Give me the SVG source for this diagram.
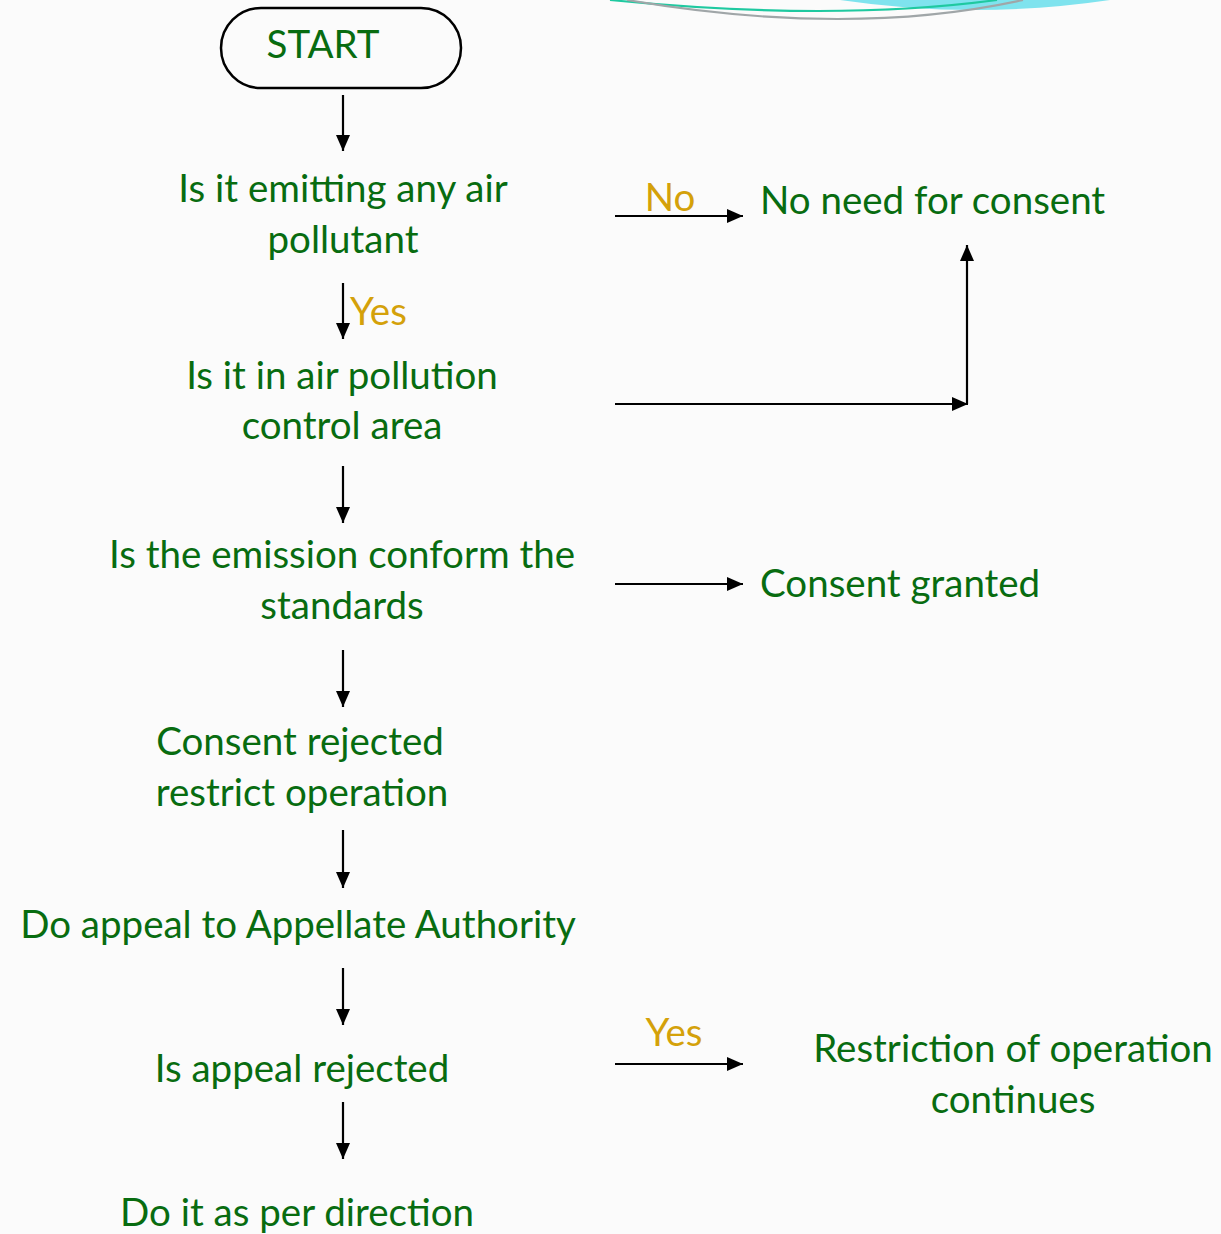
<svg xmlns="http://www.w3.org/2000/svg" width="1221" height="1234" viewBox="0 0 1221 1234">
<defs>
<style>
.t{font-family:Lato,"Open Sans","Liberation Sans",sans-serif;font-size:38.5px;fill:#086c10;text-anchor:middle}
.s{text-anchor:start}
.y{fill:#d4a10a}
.c{stroke:#000;stroke-width:2.2;fill:none}
</style>
<marker id="ah" viewBox="0 0 16 14" refX="16" refY="7" markerWidth="16" markerHeight="14" markerUnits="userSpaceOnUse" orient="auto">
<path d="M0,0 L16,7 L0,14 Z" fill="#000"/>
</marker>
</defs>
<rect width="1221" height="1234" fill="#fbfbfb"/>
<g id="decor">
<path d="M840,0 Q975,20 1110,0 Z" fill="#7fe3ee"/>
<path d="M610,0 Q833,22 997,0" fill="none" stroke="#1fc9a0" stroke-width="2.2"/>
<path d="M627,0 Q850,38 1023,0" fill="none" stroke="#a0a6a8" stroke-width="2.2"/>
</g>
<g id="n-start">
<rect x="221" y="8" width="240" height="80" rx="40" fill="none" stroke="#000" stroke-width="2.5"/>
<text class="t" x="323" y="58" font-size="37">START</text>
</g>
<g id="n-emit"><text class="t" x="343" y="202">Is it emitting any air</text><text class="t" x="343" y="253">pollutant</text></g>
<g id="n-noneed"><text class="t s" x="760" y="214">No need for consent</text></g>
<g id="n-area"><text class="t" x="342" y="389">Is it in air pollution</text><text class="t" x="342" y="439">control area</text></g>
<g id="n-conform"><text class="t" x="342" y="568">Is the emission conform the</text><text class="t" x="342" y="619">standards</text></g>
<g id="n-granted"><text class="t s" x="760" y="597">Consent granted</text></g>
<g id="n-rejected"><text class="t" x="300" y="755">Consent rejected</text><text class="t" x="302" y="806">restrict operation</text></g>
<g id="n-appeal"><text class="t" x="298" y="938">Do appeal to Appellate Authority</text></g>
<g id="n-appealrej"><text class="t" x="302" y="1082">Is appeal rejected</text></g>
<g id="n-restrict"><text class="t" x="1013" y="1062">Restriction of operation</text><text class="t" x="1013" y="1113">continues</text></g>
<g id="n-direction"><text class="t" x="297" y="1226">Do it as per direction</text></g>
<g id="connectors">
<line class="c" x1="343" y1="95" x2="343" y2="151" marker-end="url(#ah)"/>
<line class="c" x1="615" y1="216" x2="743" y2="216" marker-end="url(#ah)"/>
<text class="t y" x="670" y="211">No</text>
<line class="c" x1="343" y1="283" x2="343" y2="339" marker-end="url(#ah)"/>
<text class="t y s" x="350" y="325">Yes</text>
<line class="c" x1="615" y1="404" x2="968" y2="404" marker-end="url(#ah)"/>
<line class="c" x1="967" y1="404" x2="967" y2="245" marker-end="url(#ah)"/>
<line class="c" x1="343" y1="466" x2="343" y2="523" marker-end="url(#ah)"/>
<line class="c" x1="615" y1="584" x2="743" y2="584" marker-end="url(#ah)"/>
<line class="c" x1="343" y1="650" x2="343" y2="707" marker-end="url(#ah)"/>
<line class="c" x1="343" y1="830" x2="343" y2="888" marker-end="url(#ah)"/>
<line class="c" x1="343" y1="968" x2="343" y2="1025" marker-end="url(#ah)"/>
<line class="c" x1="615" y1="1064" x2="743" y2="1064" marker-end="url(#ah)"/>
<text class="t y" x="674" y="1046">Yes</text>
<line class="c" x1="343" y1="1102" x2="343" y2="1159" marker-end="url(#ah)"/>
</g>
</svg>
